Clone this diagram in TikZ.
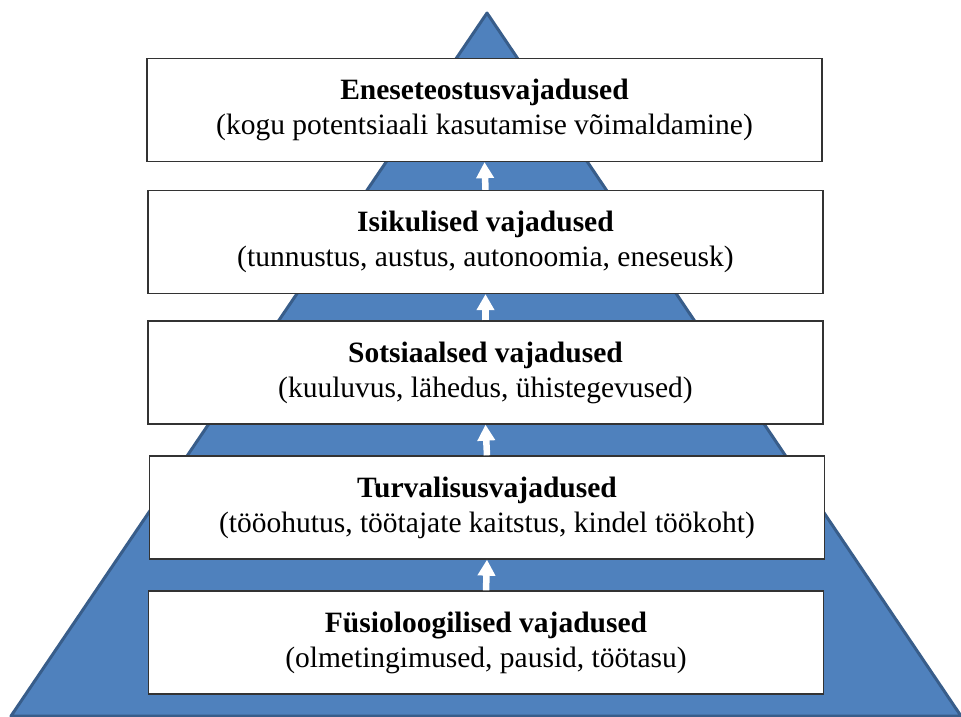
\documentclass[tikz,border=0pt]{standalone}
\usepackage{fontspec}
\setmainfont{Liberation Serif}
\usetikzlibrary{arrows.meta}
\definecolor{pyrfill}{HTML}{4F81BD}
\definecolor{pyredge}{HTML}{385D8A}
\tikzset{
  level/.style={draw=black!80, line width=1.3pt, fill=white, minimum width=675pt, minimum height=103pt, inner sep=0pt, align=center, font=\fontsize{29.5}{35}\selectfont},
  uparrow/.style={white, line width=6.5pt, -{Triangle[width=17pt,length=16pt]}}
}
\begin{document}
\begin{tikzpicture}[x=1pt,y=-1pt]
\useasboundingbox (0,0) rectangle (961,717);
\filldraw[fill=pyrfill, draw=pyredge, line width=3pt, line join=round] (487,13) -- (961,716) -- (11,716) -- cycle;
\node[level] (b1) at (484.5,110) {\textbf{Eneseteostusvajadused}\\(kogu potentsiaali kasutamise võimaldamine)};
\node[level] (b2) at (485.5,242) {\textbf{Isikulised vajadused}\\(tunnustus, austus, autonoomia, eneseusk)};
\node[level] (b3) at (485.5,372.5) {\textbf{Sotsiaalsed vajadused}\\(kuuluvus, lähedus, ühistegevused)};
\node[level] (b4) at (487,507.5) {\textbf{Turvalisusvajadused}\\(tööohutus, töötajate kaitstus, kindel töökoht)};
\node[level] (b5) at (486,642.5) {\textbf{Füsioloogilised vajadused}\\(olmetingimused, pausid, töötasu)};
\draw[uparrow] (b2.north) -- (b1.south);
\draw[uparrow] (b3.north) -- (b2.south);
\draw[uparrow] (b4.north) -- (b3.south);
\draw[uparrow] (b5.north) -- (b4.south);
\end{tikzpicture}
\end{document}
